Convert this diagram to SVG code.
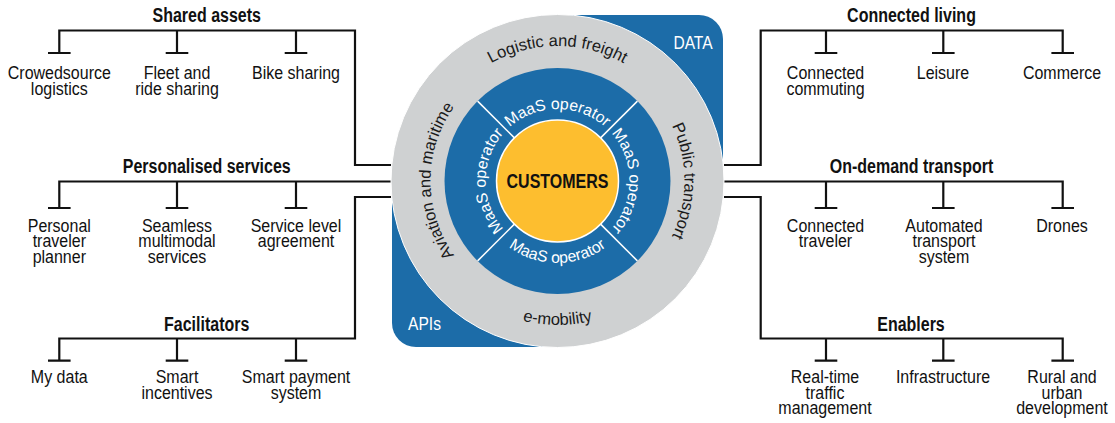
<svg xmlns="http://www.w3.org/2000/svg" width="1115" height="423" viewBox="0 0 1115 423">
<style>
text{font-family:"Liberation Sans",Arial,sans-serif;}
.lbl{font-size:18.5px;text-anchor:middle;fill:#111;}
.hd{font-size:19.5px;font-weight:bold;text-anchor:middle;fill:#111;}
.ring{font-size:16.5px;fill:#1a1a1a;}
.maas{font-size:15.8px;fill:#fff;}
.wh{font-size:19px;fill:#fff;text-anchor:middle;}
.ln{fill:none;stroke:#111;stroke-width:2.2;stroke-linejoin:miter;stroke-linecap:butt;}
.div{stroke:#fff;stroke-width:1.5;}
</style>
<defs>
<path id="pTop" d="M 422.5 181 A 135 135 0 0 1 692.5 181"/>
<path id="pLeft" d="M 557.5 308 A 127 127 0 0 1 557.5 54"/>
<path id="pRight" d="M 557.5 54 A 127 127 0 0 1 557.5 308"/>
<path id="pBot" d="M 413.5 181 A 144 144 0 0 0 701.5 181"/>
<path id="mTop" d="M 485.5 181 A 72 72 0 0 1 629.5 181"/>
<path id="mLeft" d="M 557.5 253 A 72 72 0 0 1 557.5 109"/>
<path id="mRight" d="M 557.5 109 A 72 72 0 0 1 557.5 253"/>
<path id="mBot" d="M 475.5 181 A 82 82 0 0 0 639.5 181"/>
</defs>
<rect width="1115" height="423" fill="#fff"/>

<g id="connectors">
<path class="ln" d="M 391 165 H 355 V 30.5 H 59.3 V 53 M 48 53 H 70.6 M 177 30.5 V 53 M 165.7 53 H 188.3 M 296 30.5 V 53 M 284.7 53 H 307.3"/>
<path class="ln" d="M 391 181.5 H 59.3 V 208 M 48 208 H 70.6 M 177 181.5 V 208 M 165.7 208 H 188.3 M 296 181.5 V 208 M 284.7 208 H 307.3"/>
<path class="ln" d="M 391 197 H 355 V 338.5 H 59.3 V 360.7 M 48 360.7 H 70.6 M 177 338.5 V 360.7 M 165.7 360.7 H 188.3 M 296 338.5 V 360.7 M 284.7 360.7 H 307.3"/>
<path class="ln" d="M 724 165 H 760.7 V 30.5 H 1062.7 V 53 M 1051.4 53 H 1074 M 826 30.5 V 53 M 814.7 53 H 837.3 M 943.3 30.5 V 53 M 932 53 H 954.6"/>
<path class="ln" d="M 724 181.5 H 1062.7 V 208 M 1051.4 208 H 1074 M 826 181.5 V 208 M 814.7 208 H 837.3 M 943.3 181.5 V 208 M 932 208 H 954.6"/>
<path class="ln" d="M 724 197 H 760.7 V 338.5 H 1062.7 V 360.7 M 1051.4 360.7 H 1074 M 826 338.5 V 360.7 M 814.7 360.7 H 837.3 M 943.3 338.5 V 360.7 M 932 360.7 H 954.6"/>
</g>

<g id="hub">
<path d="M 557.5 15 H 699 A 24 24 0 0 1 723 39 V 181 H 557.5 Z" fill="#1c6ca8"/>
<path d="M 557.5 347 H 416 A 24 24 0 0 1 392 323 V 181 H 557.5 Z" fill="#1c6ca8"/>
<text class="wh" transform="translate(693 49) scale(0.82 1)">DATA</text>
<text class="wh" transform="translate(424.5 330) scale(0.82 1)">APIs</text>
<circle cx="557.5" cy="181" r="166.5" fill="#cfd1d2" stroke="#fff" stroke-width="1"/>
<text class="ring"><textPath href="#pTop" startOffset="50%" text-anchor="middle">Logistic and freight</textPath></text>
<text class="ring"><textPath href="#pLeft" startOffset="50%" text-anchor="middle">Aviation and maritime</textPath></text>
<text class="ring"><textPath href="#pRight" startOffset="50%" text-anchor="middle">Public transport</textPath></text>
<text class="ring"><textPath href="#pBot" startOffset="50%" text-anchor="middle">e-mobility</textPath></text>
<circle cx="557.5" cy="181" r="113" fill="#1c6ca8"/>
<line class="div" x1="600.6" y1="137.9" x2="637.4" y2="101.1"/>
<line class="div" x1="514.4" y1="137.9" x2="477.6" y2="101.1"/>
<line class="div" x1="600.6" y1="224.1" x2="637.4" y2="260.9"/>
<line class="div" x1="514.4" y1="224.1" x2="477.6" y2="260.9"/>
<text class="maas"><textPath href="#mTop" startOffset="50%" text-anchor="middle">MaaS operator</textPath></text>
<text class="maas"><textPath href="#mLeft" startOffset="50%" text-anchor="middle">MaaS operator</textPath></text>
<text class="maas"><textPath href="#mRight" startOffset="50%" text-anchor="middle">MaaS operator</textPath></text>
<text class="maas"><textPath href="#mBot" startOffset="50%" text-anchor="middle">MaaS operator</textPath></text>
<circle cx="557.5" cy="181" r="61" fill="#fdbe2f" stroke="#fff" stroke-width="1.5"/>
<text class="hd" transform="translate(557.5 188) scale(0.82 1)">CUSTOMERS</text>
</g>

<g id="shared-assets"><text class="hd" transform="translate(206.7 21.5) scale(0.82 1)">Shared assets</text></g>
<g id="crowedsource-logistics"><text class="lbl" transform="translate(59.3 79) scale(0.865 1)">Crowedsource</text><text class="lbl" transform="translate(59.3 95) scale(0.865 1)">logistics</text></g>
<g id="fleet-ride-sharing"><text class="lbl" transform="translate(177 79) scale(0.865 1)">Fleet and</text><text class="lbl" transform="translate(177 95) scale(0.865 1)">ride sharing</text></g>
<g id="bike-sharing"><text class="lbl" transform="translate(296 79) scale(0.865 1)">Bike sharing</text></g>

<g id="personalised-services"><text class="hd" transform="translate(206.7 172.5) scale(0.82 1)">Personalised services</text></g>
<g id="personal-traveler-planner"><text class="lbl" transform="translate(59.3 231.5) scale(0.865 1)">Personal</text><text class="lbl" transform="translate(59.3 247.3) scale(0.865 1)">traveler</text><text class="lbl" transform="translate(59.3 263) scale(0.865 1)">planner</text></g>
<g id="seamless-multimodal"><text class="lbl" transform="translate(177 231.5) scale(0.865 1)">Seamless</text><text class="lbl" transform="translate(177 247.3) scale(0.865 1)">multimodal</text><text class="lbl" transform="translate(177 263) scale(0.865 1)">services</text></g>
<g id="service-level"><text class="lbl" transform="translate(296 231.5) scale(0.865 1)">Service level</text><text class="lbl" transform="translate(296 247.3) scale(0.865 1)">agreement</text></g>

<g id="facilitators"><text class="hd" transform="translate(206.7 330.5) scale(0.82 1)">Facilitators</text></g>
<g id="my-data"><text class="lbl" transform="translate(59.3 383) scale(0.865 1)">My data</text></g>
<g id="smart-incentives"><text class="lbl" transform="translate(177 383) scale(0.865 1)">Smart</text><text class="lbl" transform="translate(177 399) scale(0.865 1)">incentives</text></g>
<g id="smart-payment"><text class="lbl" transform="translate(296 383) scale(0.865 1)">Smart payment</text><text class="lbl" transform="translate(296 399) scale(0.865 1)">system</text></g>

<g id="connected-living"><text class="hd" transform="translate(911.5 21.5) scale(0.82 1)">Connected living</text></g>
<g id="connected-commuting"><text class="lbl" transform="translate(825.5 79) scale(0.865 1)">Connected</text><text class="lbl" transform="translate(825.5 95) scale(0.865 1)">commuting</text></g>
<g id="leisure"><text class="lbl" transform="translate(943 79) scale(0.865 1)">Leisure</text></g>
<g id="commerce"><text class="lbl" transform="translate(1062 79) scale(0.865 1)">Commerce</text></g>

<g id="on-demand-transport"><text class="hd" transform="translate(911.5 172.5) scale(0.82 1)">On-demand transport</text></g>
<g id="connected-traveler"><text class="lbl" transform="translate(825.5 231.5) scale(0.865 1)">Connected</text><text class="lbl" transform="translate(825.5 247.3) scale(0.865 1)">traveler</text></g>
<g id="automated-transport"><text class="lbl" transform="translate(944 231.5) scale(0.865 1)">Automated</text><text class="lbl" transform="translate(944 247.3) scale(0.865 1)">transport</text><text class="lbl" transform="translate(944 263) scale(0.865 1)">system</text></g>
<g id="drones"><text class="lbl" transform="translate(1062 231.5) scale(0.865 1)">Drones</text></g>

<g id="enablers"><text class="hd" transform="translate(911 330.5) scale(0.82 1)">Enablers</text></g>
<g id="real-time-traffic"><text class="lbl" transform="translate(825 383) scale(0.865 1)">Real-time</text><text class="lbl" transform="translate(825 398.7) scale(0.865 1)">traffic</text><text class="lbl" transform="translate(825 414.3) scale(0.865 1)">management</text></g>
<g id="infrastructure"><text class="lbl" transform="translate(943 383) scale(0.865 1)">Infrastructure</text></g>
<g id="rural-urban"><text class="lbl" transform="translate(1062 383) scale(0.865 1)">Rural and</text><text class="lbl" transform="translate(1062 398.7) scale(0.865 1)">urban</text><text class="lbl" transform="translate(1062 414.3) scale(0.865 1)">development</text></g>
</svg>
